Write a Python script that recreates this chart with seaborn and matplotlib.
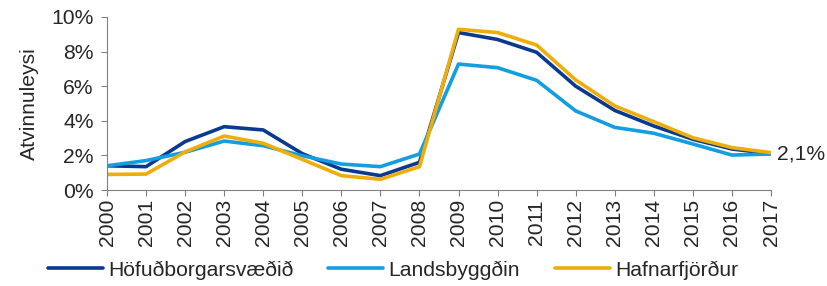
import matplotlib
matplotlib.use("Agg")
import matplotlib.pyplot as plt
import seaborn as sns
import pandas as pd
from matplotlib.ticker import FuncFormatter

years = list(range(2000, 2018))
hofud = [1.4, 1.35, 2.8, 3.66, 3.47, 2.1, 1.2, 0.83, 1.6, 9.1, 8.7, 7.96, 6.0, 4.6, 3.7, 2.93, 2.37, 2.1]
lands = [1.4, 1.7, 2.18, 2.83, 2.56, 1.98, 1.5, 1.35, 2.08, 7.28, 7.07, 6.34, 4.57, 3.62, 3.28, 2.66, 2.02, 2.08]
hafn = [0.9, 0.92, 2.2, 3.12, 2.7, 1.77, 0.83, 0.62, 1.35, 9.29, 9.1, 8.38, 6.36, 4.86, 3.95, 3.02, 2.45, 2.16]
names = ["Höfuðborgarsvæðið", "Landsbyggðin", "Hafnarfjörður"]
colors = ["#0A3A8F", "#129EE0", "#EFAD0A"]

df = pd.DataFrame({
    "year": years * 3,
    "value": hofud + lands + hafn,
    "area": [names[0]] * 18 + [names[1]] * 18 + [names[2]] * 18,
})

sns.set_style("white")
plt.rcParams['font.family'] = ['Liberation Sans', 'DejaVu Sans']
fs = 15.2

fig = plt.figure(figsize=(8.28, 2.86), dpi=100)
ax = fig.add_axes([107/828, 1 - 190/286, (771-107)/828, (190-17)/286])
sns.lineplot(data=df, x="year", y="value", hue="area", palette=colors,
             linewidth=2.6, ax=ax, legend=False)

ax.set_xlim(2000, 2017)
ax.set_ylim(0, 10)
ax.set_xticks(years)
ax.set_xticklabels([str(y) for y in years], rotation=90)
ax.set_yticks(range(0, 11, 2))
ax.yaxis.set_major_formatter(FuncFormatter(lambda v, p: f"{v:.0f}%"))
ax.tick_params(axis="both", labelsize=fs, length=4.5, width=0.8, color="#808080",
               direction="out", bottom=True, left=True)
ax.tick_params(axis="y", pad=5)
ax.tick_params(axis="x", pad=2)
for s in ["top", "right"]:
    ax.spines[s].set_visible(False)
for s in ["left", "bottom"]:
    ax.spines[s].set_color("#808080")
    ax.spines[s].set_linewidth(0.8)
ax.set_xlabel("")
ax.set_ylabel("Atvinnuleysi", fontsize=fs, labelpad=9)

ax.annotate("2,1%", xy=(years[-1], hofud[-1]), xytext=(4, 0),
            textcoords="offset points", va="center", ha="left", fontsize=fs,
            annotation_clip=False)

handles = [plt.Line2D([], [], color=c, linewidth=2.6) for c in colors]
fig.legend(handles, names, loc="center left", bbox_to_anchor=(48/828, 1 - 270/286),
           ncol=3, frameon=False, fontsize=fs, handlelength=2.6,
           handletextpad=0.25, columnspacing=1.65, borderaxespad=0, borderpad=0)

fig.savefig("out.png", dpi=100)
